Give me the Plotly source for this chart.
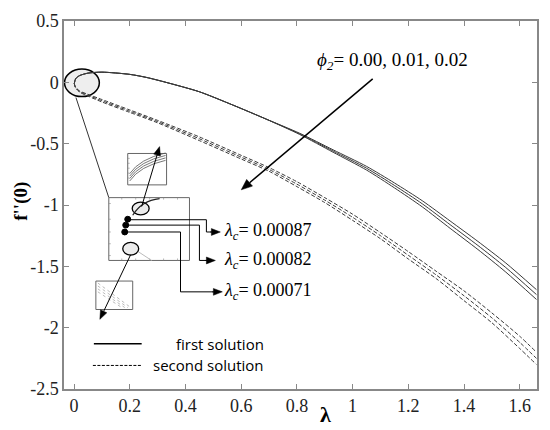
import math
import plotly.graph_objects as go

# first solution (upper branch) for phi2 = 0.00, 0.01, 0.02
lam_first = [0.0009, 0.006, 0.02, 0.05, 0.1, 0.2, 0.26, 0.33, 0.45, 0.57,
             0.69, 0.81, 0.93, 1.05, 1.15, 1.25, 1.35, 1.45, 1.55, 1.66]
first_000 = [-0.01, 0.03, 0.055, 0.075, 0.083, 0.065, 0.04, 0.0, -0.077, -0.185,
             -0.30, -0.415, -0.55, -0.685, -0.82, -0.965, -1.13, -1.297, -1.473, -1.69]
first_001 = [-0.01, 0.03, 0.055, 0.075, 0.083, 0.065, 0.04, 0.0, -0.077, -0.185,
             -0.30, -0.42, -0.56, -0.70, -0.84, -0.99, -1.16, -1.33, -1.51, -1.73]
first_002 = [-0.01, 0.03, 0.055, 0.075, 0.083, 0.065, 0.04, 0.0, -0.077, -0.185,
             -0.30, -0.425, -0.57, -0.715, -0.86, -1.015, -1.19, -1.363, -1.547, -1.77]

# second solution (lower branch)
lam_second = [0.0009, 0.005, 0.02, 0.05, 0.1, 0.2, 0.3, 0.45, 0.6, 0.7,
              0.8, 0.9, 1.0, 1.1, 1.2, 1.3, 1.4, 1.5, 1.6, 1.66]
second_000 = [-0.01, -0.037, -0.07, -0.098, -0.14, -0.225, -0.31, -0.445, -0.595, -0.695,
              -0.81, -0.94, -1.075, -1.225, -1.38, -1.54, -1.70, -1.88, -2.07, -2.20]
second_001 = [-0.01, -0.04, -0.075, -0.105, -0.15, -0.235, -0.32, -0.46, -0.61, -0.71,
              -0.83, -0.96, -1.10, -1.25, -1.41, -1.57, -1.74, -1.92, -2.12, -2.25]
second_002 = [-0.01, -0.043, -0.08, -0.112, -0.16, -0.245, -0.33, -0.475, -0.625, -0.725,
              -0.85, -0.98, -1.125, -1.275, -1.44, -1.60, -1.78, -1.96, -2.17, -2.30]

lambda_c = ['0.00087', '0.00082', '0.00071']
phi2_text = '0.00, 0.01, 0.02'

x_ticks = [0, 0.2, 0.4, 0.6, 0.8, 1, 1.2, 1.4, 1.6]
x_ticktext = ['0', '0.2', '0.4', '0.6', '0.8', '1', '1.2', '1.4', '1.6']
y_ticks = [0.5, 0, -0.5, -1, -1.5, -2, -2.5]
y_ticktext = ['0.5', '0', '-0.5', '-1', '-1.5', '-2', '-2.5']

X_RANGE = [-0.036, 1.662]
Y_RANGE = [-2.5, 0.5]


# helpers to place decorations by pixel position of the 550x430 picture
def px_x(p):
    return X_RANGE[0] + (p - 64) / 475 * (X_RANGE[1] - X_RANGE[0])


def px_y(p):
    return Y_RANGE[1] - (p - 14) / 375 * (Y_RANGE[1] - Y_RANGE[0])


def line(x0, y0, x1, y1, color='black', width=1, dash=None):
    return dict(type='line', xref='x', yref='y', x0=px_x(x0), y0=px_y(y0), x1=px_x(x1), y1=px_y(y1),
                line=dict(color=color, width=width, dash=dash))


def rect(x0, y0, x1, y1, color='#666', fill='white'):
    return dict(type='rect', xref='x', yref='y', x0=px_x(x0), y0=px_y(y0), x1=px_x(x1), y1=px_y(y1),
                line=dict(color=color, width=1), fillcolor=fill)


def ellipse(cx, cy, rx, ry, fill='#ececec', width=1.3, layer='above'):
    return dict(type='circle', xref='x', yref='y', x0=px_x(cx - rx), x1=px_x(cx + rx),
                y0=px_y(cy + ry), y1=px_y(cy - ry), line=dict(color='black', width=width),
                fillcolor=fill, layer=layer)


def path(points, color='black', width=1, dash=None, fill=None, close=False):
    d = 'M ' + ' L '.join('%f,%f' % (px_x(a), px_y(b)) for a, b in points)
    if close:
        d += ' Z'
    s = dict(type='path', xref='x', yref='y', path=d, line=dict(color=color, width=width, dash=dash))
    if fill:
        s['fillcolor'] = fill
    return s


def qcurve(p0, c, p1, color='#555', width=0.8):
    d = 'M %f,%f Q %f,%f %f,%f' % (px_x(p0[0]), px_y(p0[1]), px_x(c[0]), px_y(c[1]),
                                   px_x(p1[0]), px_y(p1[1]))
    return dict(type='path', xref='x', yref='y', path=d, line=dict(color=color, width=width))


# arrow = shaft + filled triangular head
def arrow(tail, tip, width=1, head_len=9, head_w=3.5):
    dx, dy = tip[0] - tail[0], tip[1] - tail[1]
    n = math.hypot(dx, dy)
    ux, uy = dx / n, dy / n
    bx, by = tip[0] - head_len * ux, tip[1] - head_len * uy
    p1 = (bx - head_w * uy, by + head_w * ux)
    p2 = (bx + head_w * uy, by - head_w * ux)
    return [line(tail[0], tail[1], bx, by, width=width),
            path([tip, p1, p2], width=0.5, fill='black', close=True)]


fig = go.Figure()

# curves
for ys in [first_000, first_001, first_002]:
    fig.add_trace(go.Scatter(x=lam_first, y=ys, mode='lines',
                             line=dict(color='#3a3a3a', width=1, shape='spline', smoothing=0.7)))
for ys in [second_000, second_001, second_002]:
    fig.add_trace(go.Scatter(x=lam_second, y=ys, mode='lines',
                             line=dict(color='#3a3a3a', width=1, dash='4px,2px', shape='spline', smoothing=0.7)))

shapes = []
# circle around the turning point and line to the zoom box
shapes.append(ellipse(82, 77, 17.5, 14, fill='#eeeeee', width=1.5, layer='below'))
shapes.append(line(76, 92, 109, 194, color='#333', width=1))

# middle zoom box
shapes.append(rect(109, 194, 190, 258))
for yy in [200, 216, 229, 241, 253]:
    shapes.append(line(109, yy, 111, yy, color='#888', width=0.6))
for xx in [122, 136, 150, 164, 178]:
    shapes.append(line(xx, 194, xx, 196, color='#888', width=0.6))
    shapes.append(line(xx, 256, xx, 258, color='#888', width=0.6))
shapes.append(line(128, 242, 152, 258, color='#bbb', width=1))
shapes.append(ellipse(141, 205, 8.5, 6.5))
shapes.append(ellipse(131, 246, 8, 6.5))
shapes.append(qcurve((133, 212), (142, 197), (160, 195), color='#222', width=1.2))
for cx, cy in [(128, 216), (126, 222), (125, 229)]:
    shapes.append(dict(type='circle', xref='x', yref='y', x0=px_x(cx - 3), x1=px_x(cx + 3),
                       y0=px_y(cy + 3), y1=px_y(cy - 3), fillcolor='black', line=dict(color='black', width=1)))

# upper zoom box
shapes.append(rect(128, 149, 167, 181))
for k in range(4):
    shapes.append(qcurve((130, 177 - 2.5 * k), (140, 162 - 2.5 * k), (166, 156 - 2.5 * k)))
for yy in [154, 159, 164, 169, 174]:
    shapes.append(line(128, yy, 130, yy, color='#888', width=0.6))

# lower zoom box
shapes.append(rect(96, 279, 133, 308))
for k in range(4):
    shapes.append(line(98, 281 + 3 * k, 131 - 3 * k, 306, color='#aaa', width=0.8, dash='dot'))

# connectors to the critical values
shapes.append(path([(128, 216.5), (207, 216.5), (207, 229), (214, 229)]))
shapes.append(path([(126, 222), (200, 222), (200, 258), (209, 258)]))
shapes.append(path([(125, 229), (181, 229), (181, 290), (216, 290)]))

# arrows
shapes += arrow((142, 203), (160, 142))
shapes += arrow((131, 252), (100, 318))
shapes += arrow((374, 73), (242, 186), width=1.5, head_len=11, head_w=4.5)
for y_arrow, x_tip in [(229, 221), (258, 216), (290, 223)]:
    shapes += arrow((x_tip - 10, y_arrow), (x_tip, y_arrow))

# legend lines
shapes.append(line(94, 343, 142, 343, width=1.5))
shapes.append(line(93, 365, 142, 365, width=1, dash='3px,1.5px'))

serif = 'Liberation Serif, Times New Roman, serif'
annotations = []
for lc, yy in zip(lambda_c, [229, 258, 290]):
    annotations.append(dict(x=px_x(223), y=px_y(yy), xref='x', yref='y', xanchor='left', yanchor='middle',
                            text='<i>λ<sub>c</sub></i>= ' + lc, showarrow=False,
                            font=dict(family=serif, size=18, color='black')))
annotations.append(dict(x=px_x(316), y=px_y(55), xref='x', yref='y', xanchor='left', yanchor='middle',
                        text='<i>ϕ<sub>2</sub></i>= ' + phi2_text, showarrow=False,
                        font=dict(family=serif, size=19, color='black')))
annotations.append(dict(x=px_x(267), y=px_y(343), xref='x', yref='y', xanchor='right', yanchor='middle',
                        text='first solution', showarrow=False,
                        font=dict(family='Open Sans', size=15, color='black')))
annotations.append(dict(x=px_x(267), y=px_y(365), xref='x', yref='y', xanchor='right', yanchor='middle',
                        text='second solution', showarrow=False,
                        font=dict(family='Open Sans', size=15, color='black')))

# axis titles
annotations.append(dict(x=(327 - 64) / 475, y=(389 - 415) / 375, xref='paper', yref='paper',
                        xanchor='center', yanchor='middle',
                        text='<b>λ</b>', showarrow=False, font=dict(family=serif, size=22, color='black')))
annotations.append(dict(x=(20 - 64) / 475, y=(389 - 198) / 375, xref='paper', yref='paper',
                        xanchor='center', yanchor='middle',
                        text="<b>f''(0)</b>", textangle=-90, showarrow=False,
                        font=dict(family=serif, size=19, color='black')))

axis_style = dict(showline=True, mirror='ticks', linecolor='#888', linewidth=1.5, ticks='inside',
                  ticklen=5, tickcolor='#888', tickwidth=1, showgrid=False, zeroline=False,
                  ticklabeloverflow='allow',
                  tickfont=dict(family=serif, size=18, color='#222'))

fig.update_layout(
    width=550, height=430,
    margin=dict(l=64, r=11, t=14, b=41),
    plot_bgcolor='white', paper_bgcolor='white',
    showlegend=False,
    xaxis=dict(range=X_RANGE, tickmode='array', tickvals=x_ticks, ticktext=x_ticktext, **axis_style),
    yaxis=dict(range=Y_RANGE, tickmode='array', tickvals=y_ticks, ticktext=y_ticktext, **axis_style),
    shapes=shapes,
    annotations=annotations,
)

# drop the default page margin so the figure sits at the window corner
fig.write_html("out.html", config={'displayModeBar': False},
               post_script="document.body.style.margin='0';")
